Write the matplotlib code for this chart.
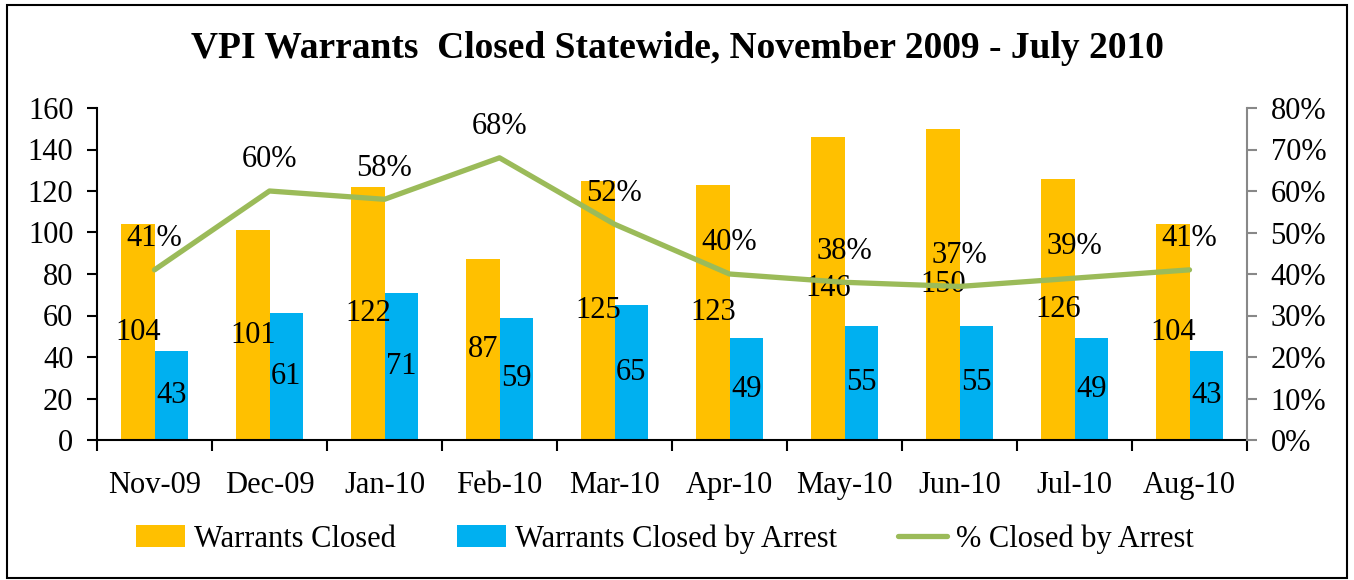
import matplotlib.pyplot as plt
from matplotlib.patches import Rectangle
from matplotlib.ticker import PercentFormatter
import numpy as np

months = ['Nov-09', 'Dec-09', 'Jan-10', 'Feb-10', 'Mar-10',
          'Apr-10', 'May-10', 'Jun-10', 'Jul-10', 'Aug-10']
warrants_closed = [104, 101, 122, 87, 125, 123, 146, 150, 126, 104]
closed_by_arrest = [43, 61, 71, 59, 65, 49, 55, 55, 49, 43]
pct_by_arrest = [41, 60, 58, 68, 52, 40, 38, 37, 39, 41]

orange = '#FFC000'
blue = '#00B0F0'
green = '#9BBB59'

plt.rcParams['font.family'] = ['Liberation Serif', 'DejaVu Serif']
fs = 22

fig = plt.figure(figsize=(13.54, 5.8), dpi=100)
ax = fig.add_axes([97 / 1354, 1 - 440 / 580, 1150 / 1354, 332 / 580])
ax2 = ax.twinx()

x = np.arange(len(months))
w = 0.29
b1 = ax.bar(x - w / 2, warrants_closed, w, color=orange, label='Warrants Closed', zorder=2)
b2 = ax.bar(x + w / 2, closed_by_arrest, w, color=blue, label='Warrants Closed by Arrest', zorder=2)
ax.bar_label(b1, label_type='center', fontsize=fs)
ax.bar_label(b2, label_type='center', fontsize=fs)

# percentage line on the secondary axis
pct = np.array(pct_by_arrest) / 100
ln, = ax2.plot(x, pct, color=green, lw=3.8, label='% Closed by Arrest', solid_capstyle='round')
for xi, p in zip(x, pct_by_arrest):
    ax2.annotate(f'{p}%', (xi, p / 100), xytext=(0, 12), textcoords='offset points',
                 ha='center', va='bottom', fontsize=fs)

ax.set_xlim(-0.5, len(months) - 0.5)
ax.set_ylim(0, 160)
ax.set_yticks(range(0, 161, 20))
ax2.set_ylim(0, 0.8)
ax2.set_yticks(np.arange(0, 0.81, 0.1))
ax2.yaxis.set_major_formatter(PercentFormatter(1.0, decimals=0))

ax.set_xticks(x)
ax.set_xticklabels(months)
ax.set_xticks(np.arange(-0.5, len(months), 1), minor=True)
ax.tick_params(axis='x', which='major', length=0, pad=22, labelsize=fs)
ax.tick_params(axis='x', which='minor', length=8, width=1.5, direction='out')
ax.tick_params(axis='y', length=7, width=1.5, pad=10, labelsize=fs)
ax2.tick_params(axis='y', length=7, width=1.5, pad=10, labelsize=fs, color='#888888')

for a in (ax, ax2):
    a.spines['top'].set_visible(False)
ax.spines['right'].set_visible(False)
ax.spines['left'].set_linewidth(1.5)
ax.spines['bottom'].set_linewidth(1.5)
ax2.spines['left'].set_visible(False)
ax2.spines['bottom'].set_visible(False)
ax2.spines['right'].set_color('#888888')
ax2.spines['right'].set_linewidth(1.5)

fig.text(0.5, 1 - 48 / 580, 'VPI Warrants  Closed Statewide, November 2009 - July 2010',
         ha='center', va='center', fontsize=27, fontweight='bold')

fig.legend(handles=[b1, b2, ln], loc='center', bbox_to_anchor=(665 / 1354, 1 - 539 / 580),
           ncol=3, frameon=False, fontsize=fs, handlelength=1.6, handletextpad=0.3,
           columnspacing=2.0)

fig.patches.append(Rectangle((7 / 1354, 2 / 580), 1340 / 1354, 573 / 580,
                             transform=fig.transFigure, fill=False, edgecolor='black', lw=1.5))

fig.savefig('out.png', dpi=100)
